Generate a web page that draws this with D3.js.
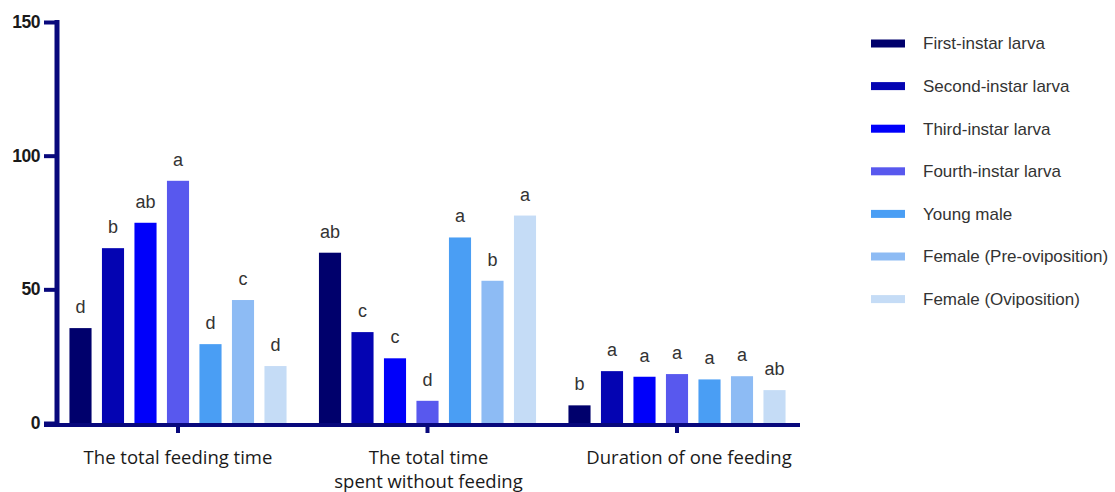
<!DOCTYPE html>
<html>
<head>
<meta charset="utf-8">
<script src="https://cdn.jsdelivr.net/npm/d3@7"></script>
<style>
  html, body { margin: 0; padding: 0; background: #fff; }
  svg { display: block; }
</style>
</head>
<body>
<svg id="chart" width="1115" height="492"></svg>
<script>
// Feeding behaviour by developmental stage
const groups = ["The total feeding time", "The total time\nspent without feeding", "Duration of one feeding"];
const series = ["First-instar larva", "Second-instar larva", "Third-instar larva", "Fourth-instar larva",
                "Young male", "Female (Pre-oviposition)", "Female (Oviposition)"];
const colors = ["#00006c", "#0404b2", "#0000fa", "#5858ee", "#4a9ef4", "#8dbbf4", "#c5dcf6"];

// values[g][s]: group g, series s
const totalFeeding   = [35.5, 65.4, 74.9, 90.6, 29.5, 46.0, 21.3];
const withoutFeeding = [63.7, 34.0, 24.2, 8.3, 69.4, 53.2, 77.6];
const oneFeeding     = [6.6, 19.4, 17.3, 18.3, 16.3, 17.5, 12.3];
const values = [totalFeeding, withoutFeeding, oneFeeding];

// significance letters
const lettersTotal   = ["d", "b", "ab", "a", "d", "c", "d"];
const lettersWithout = ["ab", "c", "c", "d", "a", "b", "a"];
const lettersOne     = ["b", "a", "a", "a", "a", "a", "ab"];
const letters = [lettersTotal, lettersWithout, lettersOne];

const yTicks = [0, 50, 100, 150];

const svg = d3.select("#chart");
const axisColor = "#08087c";

const y = d3.scaleLinear().domain([0, 150]).range([423, 22]);
const x0 = d3.scaleBand().domain(d3.range(groups.length)).range([53.25, 801.75]).padding(0);
const x1 = d3.scaleBand().domain(d3.range(series.length))
  .range([0, 227.5]).paddingInner(0.32).paddingOuter(0.16);

const plot = svg.append("g");

// bars
values.forEach((vals, g) => {
  const gx = x0(g) + x0.bandwidth() / 2 - 113.75;
  const grp = plot.append("g").attr("transform", `translate(${gx},0)`);
  grp.selectAll("rect").data(vals).join("rect")
    .attr("x", (d, i) => x1(i))
    .attr("width", x1.bandwidth())
    .attr("y", d => y(d))
    .attr("height", d => y(0) - y(d))
    .attr("fill", (d, i) => colors[i]);
  grp.selectAll("text").data(vals).join("text")
    .attr("x", (d, i) => x1(i) + x1.bandwidth() / 2)
    .attr("y", d => y(d) - 15)
    .attr("text-anchor", "middle")
    .attr("font-family", "Liberation Sans, Arial, sans-serif")
    .attr("font-size", 18)
    .attr("fill", "#333")
    .text((d, i) => letters[g][i]);
});

// y axis
const yAxis = svg.append("g").attr("transform", "translate(57,0)")
  .call(d3.axisLeft(y).tickValues(yTicks).tickSize(13).tickSizeOuter(0).tickPadding(4));
yAxis.select(".domain").remove();
yAxis.selectAll(".tick line").attr("stroke", axisColor).attr("stroke-width", 4);
yAxis.selectAll(".tick text")
  .attr("font-family", "Liberation Sans, Arial, sans-serif")
  .attr("font-size", 17.5).attr("font-weight", "bold").attr("fill", "#1a1a1a")
  .attr("letter-spacing", "-0.5");
svg.append("line").attr("x1", 57).attr("x2", 57).attr("y1", 20).attr("y2", 427)
  .attr("stroke", axisColor).attr("stroke-width", 5);

// x axis
const xAxis = svg.append("g").attr("transform", "translate(0,425)")
  .call(d3.axisBottom(x0).tickSize(8).tickSizeOuter(0).tickFormat(""));
xAxis.select(".domain").remove();
xAxis.selectAll(".tick line").attr("stroke", axisColor).attr("stroke-width", 4);
svg.append("line").attr("x1", 44).attr("x2", 800).attr("y1", 425).attr("y2", 425)
  .attr("stroke", axisColor).attr("stroke-width", 4);

// category labels
const labelShift = [0, 1, 12];
groups.forEach((label, g) => {
  const cx = x0(g) + x0.bandwidth() / 2 + labelShift[g];
  const t = svg.append("text")
    .attr("x", cx)
    .attr("y", 464)
    .attr("text-anchor", "middle")
    .attr("font-family", "'Open Sans', Lato, sans-serif")
    .attr("font-size", 18.5)
    .attr("fill", "#1a1a1a");
  label.split("\n").forEach((line, k) => {
    t.append("tspan").attr("x", cx).attr("dy", k === 0 ? 0 : 24).text(line);
  });
});

// legend
const legend = svg.append("g");
series.forEach((name, i) => {
  const cy = 43.5 + i * 42.6;
  legend.append("rect").attr("x", 871).attr("y", cy - 4).attr("width", 34).attr("height", 8)
    .attr("fill", colors[i]);
  legend.append("text").attr("x", 923).attr("y", cy).attr("dy", "0.35em")
    .attr("font-family", "Liberation Sans, Arial, sans-serif")
    .attr("font-size", 17).attr("fill", "#333").text(name);
});
</script>
</body>
</html>
